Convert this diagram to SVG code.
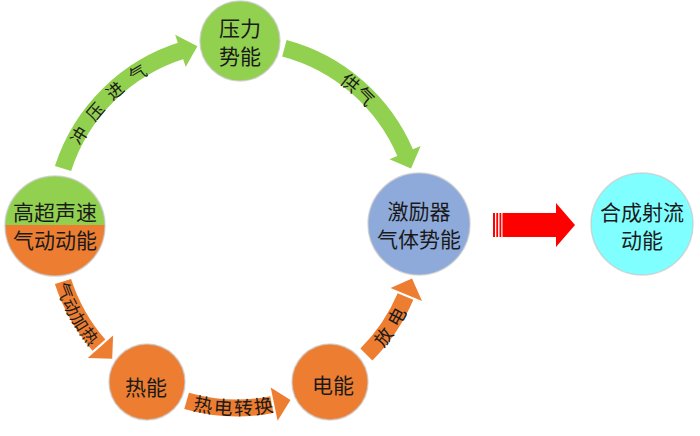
<svg xmlns="http://www.w3.org/2000/svg" width="700" height="436" viewBox="0 0 700 436">
<style>
.node{stroke:#c8c8c8;stroke-width:1.5;stroke-opacity:0.7}
.nt{font-family:"Noto Sans CJK SC","Noto Sans",sans-serif;font-size:21px;fill:#1a1a1a;text-anchor:middle;dominant-baseline:central}
.lbl{font-family:"Noto Sans CJK SC","Noto Sans",sans-serif;fill:#1a1a1a;dominant-baseline:central}
.g{fill:#92d050}
.o{fill:#ed7d31}
.gs{fill:none;stroke:#92d050;stroke-width:17}
.os{fill:none;stroke:#ed7d31;stroke-width:17}
</style>
<defs>
<path id="t1" d="M 59.8 179.2 A 183 183 0 0 1 188.1 48.7"/>
<path id="t2" d="M 275.0 46.0 A 183 183 0 0 1 411.0 168.5"/>
<path id="t3" d="M 54.0 221.8 A 183 183 0 0 0 142.8 381.9"/>
<path id="t4" d="M 143.8 380.2 A 181 181 0 0 0 324.7 383.3"/>
<path id="t5" d="M 320.9 387.6 A 183 183 0 0 0 419.8 233.6"/>
<clipPath id="topHalf"><rect x="0" y="0" width="120" height="225"/></clipPath>
<clipPath id="botHalf"><rect x="0" y="225" width="120" height="100"/></clipPath>
</defs>

<g id="connectors">
  <g id="arrow-chongya">
    <path class="gs" d="M 63.0 168.5 A 183 183 0 0 1 183.5 50.0"/>
    <polygon class="g" points="175.2,34.8 197.4,46.3 185.7,67.1"/>
    <text class="lbl" font-size="17" letter-spacing="12"><textPath href="#t1" startOffset="51%" text-anchor="middle">冲压进气</textPath></text>
  </g>
  <g id="arrow-gongqi">
    <path class="gs" d="M 284.4 48.2 A 183 183 0 0 1 405.5 153.5"/>
    <polygon class="g" points="420.7,145.9 411,168.5 389.5,159.3"/>
    <text class="lbl" font-size="18" letter-spacing="2"><textPath href="#t2" startOffset="50%" text-anchor="middle">供气</textPath></text>
  </g>
  <g id="arrow-qidong">
    <path class="os" d="M 63.0 281.5 A 183 183 0 0 0 98.9 345.1"/>
    <polygon class="o" points="87.7,358 112.2,358.8 113.1,335.4"/>
    <text class="lbl" font-size="17"><textPath href="#t3" startOffset="50%" text-anchor="middle">气动加热</textPath></text>
  </g>
  <g id="arrow-redian">
    <path class="os" d="M 186.6 400.9 A 183 183 0 0 0 271.9 404.6"/>
    <polygon class="o" points="277.6,420.8 290.5,400.0 270.7,387.5"/>
    <text class="lbl" font-size="19" letter-spacing="1"><textPath href="#t4" startOffset="50%" text-anchor="middle">热电转换</textPath></text>
  </g>
  <g id="arrow-fangdian">
    <path class="os" d="M 366.4 354.4 A 183 183 0 0 0 405.5 296.5"/>
    <polygon class="o" points="422,300.9 412,278.5 390.6,288"/>
    <text class="lbl" font-size="18" letter-spacing="6"><textPath href="#t5" startOffset="50%" text-anchor="middle">放电</textPath></text>
  </g>
  <g id="arrow-red" fill="#ff0000">
    <rect x="493" y="213" width="2" height="24"/>
    <rect x="496.3" y="213" width="1.8" height="24"/>
    <rect x="499.5" y="213" width="1.8" height="24"/>
    <polygon points="502.5,213 556,213 556,203 575,225 556,247 556,237 502.5,237"/>
  </g>
</g>

<g id="node-yali">
  <circle class="node g" cx="240" cy="41" r="40"/>
  <text class="nt" x="240" y="27">压力</text>
  <text class="nt" x="240" y="55">势能</text>
</g>

<g id="node-gaochao">
  <circle cx="55" cy="226" r="50" class="g" clip-path="url(#topHalf)"/>
  <circle cx="55" cy="226" r="50" class="o" clip-path="url(#botHalf)"/>
  <circle cx="55" cy="226" r="50" fill="none" class="node"/>
  <text class="nt" x="55" y="211">高超声速</text>
  <text class="nt" x="55" y="239">气动动能</text>
</g>

<g id="node-reneng">
  <circle class="node o" cx="147" cy="382" r="38"/>
  <text class="nt" x="146" y="386" font-size="22">热能</text>
</g>

<g id="node-dianneng">
  <circle class="node o" cx="330" cy="382" r="38"/>
  <text class="nt" x="333" y="384" font-size="22">电能</text>
</g>

<g id="node-jiliqi">
  <circle class="node" cx="419" cy="224" r="51" fill="#8eaadb"/>
  <text class="nt" x="419" y="210">激励器</text>
  <text class="nt" x="419" y="238">气体势能</text>
</g>

<g id="node-hecheng">
  <circle class="node" cx="642" cy="224" r="51" fill="#7fffff"/>
  <text class="nt" x="642" y="211">合成射流</text>
  <text class="nt" x="642" y="239">动能</text>
</g>
</svg>
